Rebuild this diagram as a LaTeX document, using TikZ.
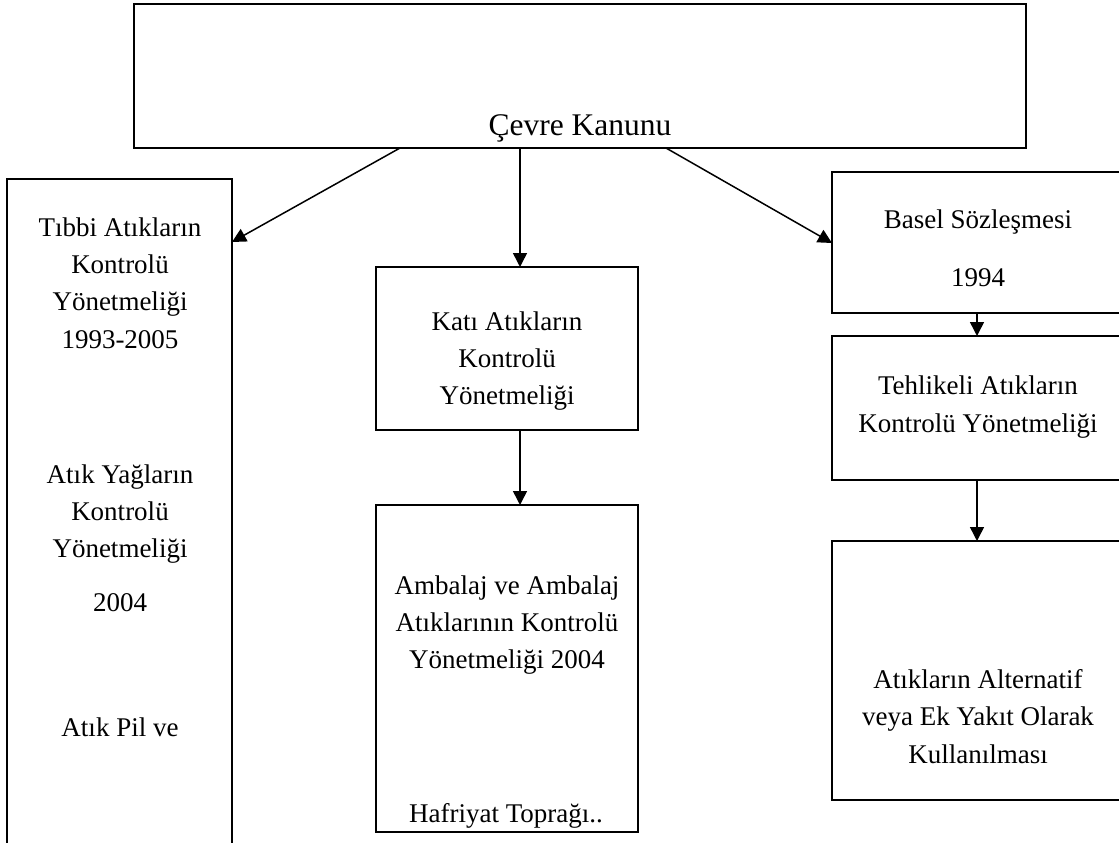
\documentclass[tikz,border=0pt]{standalone}
\usepackage{fontspec}
\setmainfont{Liberation Serif}
\usetikzlibrary{arrows.meta}
\begin{document}
\begin{tikzpicture}[x=1pt,y=-1pt,
  box/.style={draw=black,line width=1.5pt,inner sep=0pt,outer sep=0pt,rectangle},
  arr/.style={line width=1.5pt,-{Triangle[length=14pt,width=14pt]}},
  txt/.style={anchor=base,inner sep=0pt,font=\fontsize{27}{32}\selectfont},
  ttxt/.style={anchor=base,inner sep=0pt,font=\fontsize{31.5}{36}\selectfont}]
\useasboundingbox (0,0) rectangle (1119,843);
\clip (0,0) rectangle (1119,843);
% boxes
\node[box,minimum width=892pt,minimum height=144pt] (top) at (580,76) {};
\node[box,minimum width=225pt,minimum height=721pt] (left) at (119.5,539.5) {};
\node[box,minimum width=262pt,minimum height=163pt] (m1) at (507,348.5) {};
\node[box,minimum width=262pt,minimum height=327pt] (m2) at (507,668.5) {};
\node[box,minimum width=468pt,minimum height=141pt] (r1) at (1066,242.5) {};
\node[box,minimum width=468pt,minimum height=144pt] (r2) at (1066,408) {};
\node[box,minimum width=468pt,minimum height=259pt] (r3) at (1066,670.5) {};
% top text
\node[ttxt] (tt) at (580,135) {Çevre Kanunu};
% left column
\node[txt] (l1) at (120,236) {Tıbbi Atıkların};
\node[txt] (l2) at (120,273) {Kontrolü};
\node[txt] (l3) at (120,310) {Yönetmeliği};
\node[txt] (l4) at (120,348) {1993-2005};
\node[txt] (l5) at (120,483) {Atık Yağların};
\node[txt] (l6) at (120,520) {Kontrolü};
\node[txt] (l7) at (120,557) {Yönetmeliği};
\node[txt] (l8) at (120,611) {2004};
\node[txt] (l9) at (120,736) {Atık Pil ve};
% middle
\node[txt] (a1) at (507,330) {Katı Atıkların};
\node[txt] (a2) at (507,367) {Kontrolü};
\node[txt] (a3) at (507,404) {Yönetmeliği};
\node[txt] (b1) at (507,594) {Ambalaj ve Ambalaj};
\node[txt] (b2) at (507,631) {Atıklarının Kontrolü};
\node[txt] (b3) at (507,668) {Yönetmeliği 2004};
\begin{scope}
\clip (376,505) rectangle (638,831);
\node[txt] (b4) at (506,822) {Hafriyat Toprağı..};
\end{scope}
% right
\node[txt] (c1) at (978,228) {Basel Sözleşmesi};
\node[txt] (c2) at (978,286) {1994};
\node[txt] (d1) at (978,394) {Tehlikeli Atıkların};
\node[txt] (d2) at (978,432) {Kontrolü Yönetmeliği};
\node[txt] (e1) at (978,688) {Atıkların Alternatif};
\node[txt] (e2) at (978,725) {veya Ek Yakıt Olarak};
\node[txt] (e3) at (978,763) {Kullanılması};
% arrows
\draw[arr] ([xshift=266pt]top.south west) -- ([yshift=-63pt]left.north east);
\draw[arr] ([xshift=386pt]top.south west) -- ([xshift=144pt]m1.north west);
\draw[arr] ([xshift=532pt]top.south west) -- ([yshift=-71pt]r1.north west);
\draw[arr] ([xshift=144pt]m1.south west) -- ([xshift=144pt]m2.north west);
\draw[arr] ([xshift=145pt]r1.south west) -- ([xshift=145pt]r2.north west);
\draw[arr] ([xshift=145pt]r2.south west) -- ([xshift=145pt]r3.north west);
\end{tikzpicture}
\end{document}
